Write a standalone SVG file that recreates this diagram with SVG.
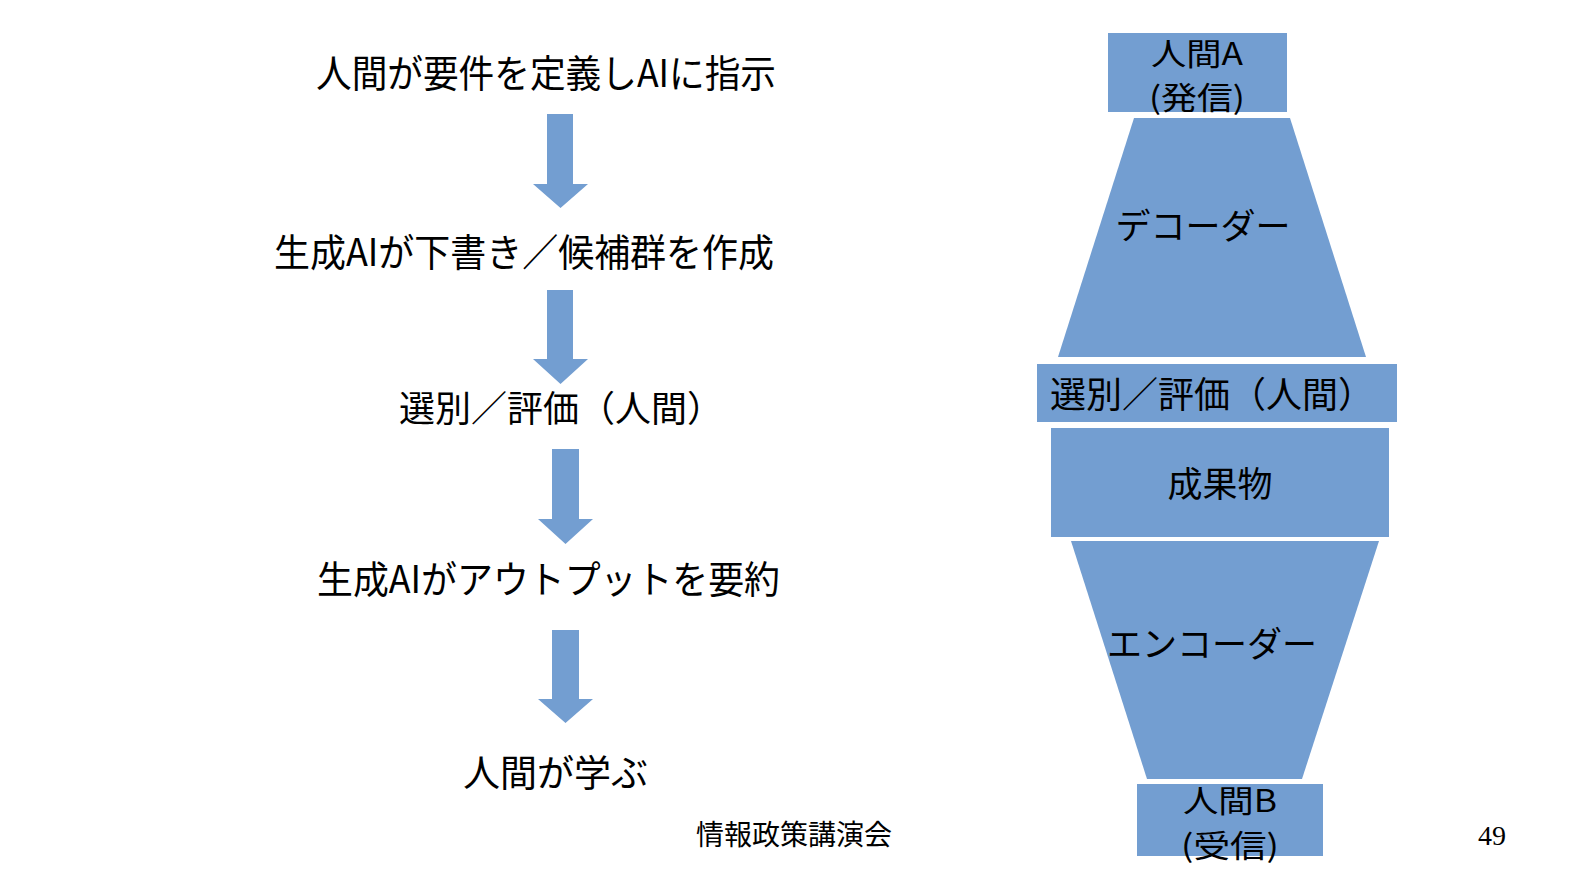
<svg xmlns="http://www.w3.org/2000/svg" width="1587" height="893" viewBox="0 0 1587 893">
<style>
.shape{fill:#739ed1;}
.t{font-family:"Noto Sans CJK JP","Noto Sans",sans-serif;fill:#000;}
.l{font-size:38px;}
.r{font-size:35px;}
.s{font-size:31px;}
.c{text-anchor:middle;}
.foot{font-family:"Noto Sans CJK JP",sans-serif;font-size:28px;fill:#000;}
.num{font-family:"Liberation Serif",serif;font-size:28px;fill:#000;}
</style>
<rect width="1587" height="893" fill="#fff"/>
<g id="step1"><text class="t l" x="316" y="87" textLength="460" lengthAdjust="spacingAndGlyphs">人間が要件を定義しAIに指示</text></g>
<g id="step2"><text class="t l" x="274" y="266" textLength="500" lengthAdjust="spacingAndGlyphs">生成AIが下書き／候補群を作成</text></g>
<g id="step3"><text class="t l" x="399" y="422" style="font-size:36px">選別／評価（人間）</text></g>
<g id="step4"><text class="t l" x="317" y="593" textLength="463" lengthAdjust="spacingAndGlyphs">生成AIがアウトプットを要約</text></g>
<g id="step5"><text class="t l" x="463" y="787" style="font-size:37px">人間が学ぶ</text></g>
<g id="connectors">
<path class="shape" d="M547,114 H573 V184 H588 L560.5,208 L533,184 H547 Z"/>
<path class="shape" d="M547,290 H573 V359 H588 L560.5,384 L533,359 H547 Z"/>
<path class="shape" d="M552,449 H579 V519 H593 L565.5,544 L538,519 H552 Z"/>
<path class="shape" d="M552,630 H579 V699 H593 L565.5,723 L538,699 H552 Z"/>
</g>
<g id="humanA">
<rect class="shape" x="1108" y="33" width="179" height="79"/>
<text class="t s c" x="1197" y="65" textLength="92" lengthAdjust="spacingAndGlyphs">人間A</text>
<text class="t s c" x="1197" y="109" textLength="96" lengthAdjust="spacingAndGlyphs">(発信)</text>
</g>
<g id="decoder">
<polygon class="shape" points="1134,118 1290,118 1366,357 1058,357"/>
<text class="t r c" x="1203" y="239">デコーダー</text>
</g>
<g id="select">
<rect class="shape" x="1037" y="364" width="360" height="58"/>
<text class="t r" x="1050" y="408" style="font-size:36px">選別／評価（人間）</text>
</g>
<g id="output">
<rect class="shape" x="1051" y="428" width="338" height="109"/>
<text class="t r c" x="1220" y="497">成果物</text>
</g>
<g id="encoder">
<polygon class="shape" points="1071,541 1379,541 1302,779 1147,779"/>
<text class="t r c" x="1212" y="657">エンコーダー</text>
</g>
<g id="humanB">
<rect class="shape" x="1137" y="784" width="186" height="72"/>
<text class="t s c" x="1230" y="812" textLength="94" lengthAdjust="spacingAndGlyphs">人間B</text>
<text class="t s c" x="1230" y="857" textLength="98" lengthAdjust="spacingAndGlyphs">(受信)</text>
</g>
<g id="footer">
<text class="foot" x="696" y="845">情報政策講演会</text>
<text class="num" x="1478" y="845">49</text>
</g>
</svg>
